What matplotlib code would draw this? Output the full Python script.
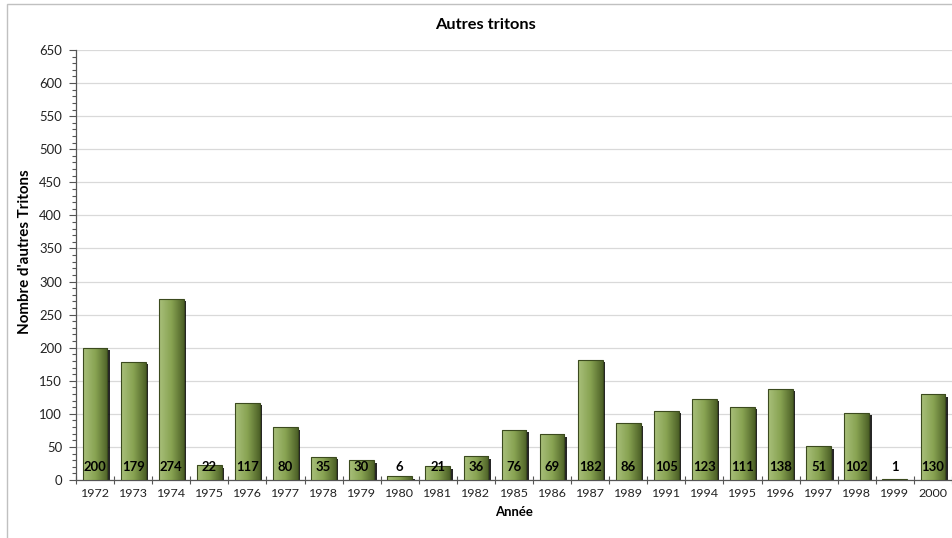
import numpy as np
import matplotlib
matplotlib.use("Agg")
import matplotlib.pyplot as plt
from matplotlib.transforms import ScaledTranslation
from matplotlib.patches import Rectangle
from matplotlib.colors import LinearSegmentedColormap
from matplotlib.ticker import MultipleLocator, FixedLocator, NullFormatter

years = ["1972", "1973", "1974", "1975", "1976", "1977", "1978", "1979", "1980", "1981",
         "1982", "1985", "1986", "1987", "1989", "1991", "1994", "1995", "1996", "1997",
         "1998", "1999", "2000"]
counts = [200, 179, 274, 22, 117, 80, 35, 30, 6, 21, 36, 76, 69, 182, 86, 105, 123,
          111, 138, 51, 102, 1, 130]

title = "Autres tritons"
xlabel = "Année"
ylabel = "Nombre d'autres Tritons"

plt.rcParams['font.family'] = ['Lato', 'DejaVu Sans']

W, H = 952, 538
fig = plt.figure(figsize=(W / 100, H / 100), dpi=100)
ax = fig.add_axes([76 / W, (H - 480) / H, 1 - 76 / W, 430 / H])

x = np.arange(len(years))
width = 0.65

# shadow bars
shadow = ax.bar(x, counts, width=width, color="black", zorder=2, linewidth=0)
off = ScaledTranslation(2.5 / 100, -2.5 / 100, fig.dpi_scale_trans)
for r in shadow:
    r.set_transform(ax.transData + off)
    r.set_alpha(0.85)

# main bars with gradient
bars = ax.bar(x, counts, width=width, facecolor="none", edgecolor="#3b4a1e",
              linewidth=0.8, zorder=4)
cmap = LinearSegmentedColormap.from_list("g", ["#a9c07b", "#88a352", "#4d6127"])
grad = np.linspace(0, 1, 256).reshape(1, -1)
for r, v in zip(bars, counts):
    if v <= 0:
        continue
    x0 = r.get_x()
    im = ax.imshow(grad, cmap=cmap, aspect="auto", zorder=3,
                   extent=[x0, x0 + r.get_width(), 0, v], interpolation="bilinear")
    clip = Rectangle((x0, 0), r.get_width(), v, transform=ax.transData)
    im.set_clip_path(clip)

# labels
labels = []
for xi, v in zip(x, counts):
    t = ax.annotate(str(v), xy=(xi, 0), xytext=(0, 13), textcoords="offset pixels",
                    ha="center", va="center", fontsize=10, fontweight="bold",
                    color="black", zorder=6)
    labels.append(t)

ax.set_xlim(-0.5, len(years) - 0.5)
ax.set_ylim(0, 650)
ax.yaxis.set_major_locator(MultipleLocator(50))
ax.yaxis.set_minor_locator(MultipleLocator(10))
ax.set_xticks(x)
ax.set_xticklabels(years, fontsize=10, color="#222222")
ax.xaxis.set_minor_locator(FixedLocator(np.arange(-0.5, len(years), 1.0)))
ax.xaxis.set_minor_formatter(NullFormatter())
ax.tick_params(axis="x", which="major", length=0, pad=6)
ax.tick_params(axis="x", which="minor", length=6, width=0.8, color="#555555", direction="inout")
ax.tick_params(axis="y", which="major", length=5, width=0.8, color="#555555", labelsize=10,
               labelcolor="#222222", pad=5)
ax.tick_params(axis="y", which="minor", length=3, width=0.8, color="#555555")

ax.grid(axis="y", which="major", color="#d9d9d9", linewidth=0.9, zorder=0)
ax.set_axisbelow(True)
for s in ["top", "right"]:
    ax.spines[s].set_visible(False)
for s in ["left", "bottom"]:
    ax.spines[s].set_color("#555555")
    ax.spines[s].set_linewidth(0.9)

t_title = fig.text(485 / W, 1 - 25 / H, title, ha="center", va="center",
                   fontsize=12, fontweight="bold")
t_ylab = fig.text(25 / W, 1 - 252 / H, ylabel, ha="center", va="center", rotation=90,
                  fontsize=10, fontweight="bold")
t_xlab = fig.text(514 / W, 1 - 512 / H, xlabel, ha="center", va="center",
                  fontsize=10, fontweight="bold")

border = Rectangle((7 / W, -0.05), 1.0, 1.05 - 4 / H, transform=fig.transFigure,
                   fill=False, edgecolor="#c0c0c0", linewidth=1.0)
fig.patches.append(border)

# fit font sizes to the measured text extents of the reference
fig.canvas.draw()
renderer = fig.canvas.get_renderer()


def fit(texts, target, dim="w"):
    bb = texts[0].get_window_extent(renderer)
    cur = bb.width if dim == "w" else bb.height
    scale = target / cur
    for t in texts:
        t.set_fontsize(t.get_fontsize() * scale)


fit([t_title], 100)
fit([t_ylab], 165, "h")
fit([t_xlab], 38)
fit(labels, 23)
xt = ax.get_xticklabels()
fit(xt, 29)
yt = [t for t in ax.get_yticklabels() if t.get_text() == "650"]
if yt:
    s = 23 / yt[0].get_window_extent(renderer).width
    ax.tick_params(axis="y", labelsize=10 * s)

fig.savefig("out.png", dpi=100)
